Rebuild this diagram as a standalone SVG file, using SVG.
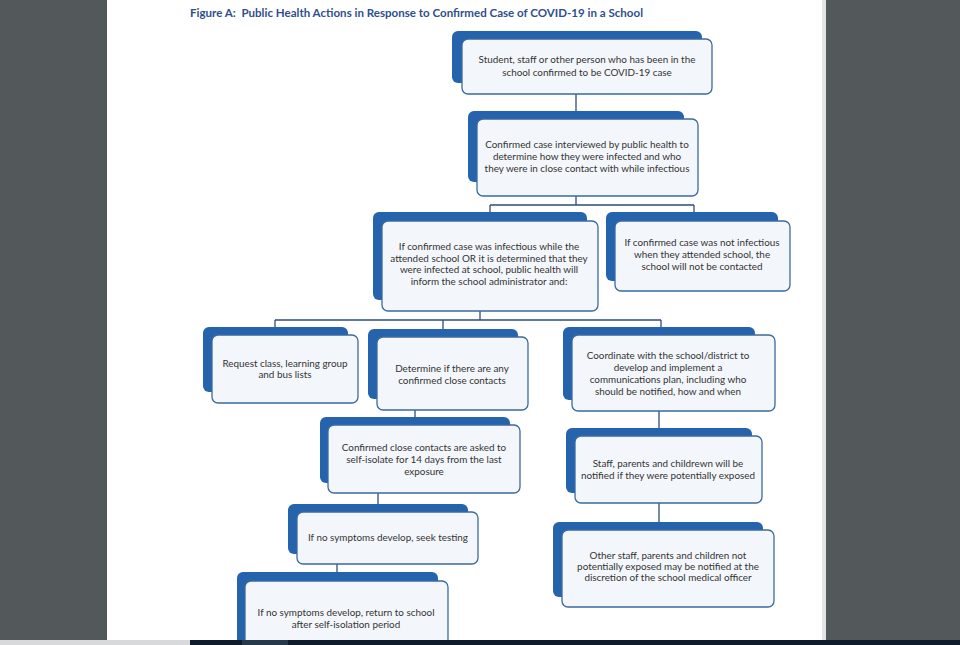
<svg xmlns="http://www.w3.org/2000/svg" width="960" height="645" viewBox="0 0 960 645">
<defs>
<style>
.sh{fill:#2563ad}
.bx{fill:#f3f7fb;stroke:#3b6a9e;stroke-width:1.3}
.t{font-family:Lato,"Liberation Sans",sans-serif;font-size:9.9px;fill:#333;text-anchor:middle}
.ttl{font-family:Lato,"Liberation Sans",sans-serif;font-size:11.8px;font-weight:bold;fill:#2f4f8c}
.cn{fill:none;stroke:#2d4e78;stroke-width:1.3}
</style>
<clipPath id="pg"><rect x="107" y="0" width="716" height="640"/></clipPath>
</defs>
<rect x="0" y="0" width="960" height="645" fill="#53585b"/>
<rect x="107" y="0" width="716" height="640" fill="#ffffff"/>
<rect x="822" y="0" width="4" height="640" fill="#e2e4e6"/>
<text class="ttl" x="190" y="17" textLength="453" lengthAdjust="spacingAndGlyphs">Figure A:&#160; Public Health Actions in Response to Confirmed Case of COVID-19 in a School</text>

<g id="connectors">
<path class="cn" d="M576 94V119"/>
<path class="cn" d="M576 196V205M490 205H694M490 205V221M694 205V221"/>
<path class="cn" d="M480 311V320M275 320H661M275 320V335M443 320V337M661 320V335"/>
<path class="cn" d="M415 410V425"/>
<path class="cn" d="M378 493V512"/>
<path class="cn" d="M337 564V581"/>
<path class="cn" d="M659 411V436"/>
<path class="cn" d="M659 503V530"/>
</g>

<g clip-path="url(#pg)">
<g id="n1">
<rect class="sh" x="452" y="31" width="250" height="52" rx="6"/>
<rect class="bx" x="462" y="39" width="250" height="55" rx="6"/>
<text class="t" x="587" y="63">Student, staff or other person who has been in the</text>
<text class="t" x="587" y="76">school confirmed to be COVID-19 case</text>
</g>
<g id="n2">
<rect class="sh" x="468" y="111" width="216" height="71" rx="6"/>
<rect class="bx" x="477" y="119" width="221" height="77" rx="6"/>
<text class="t" x="587" y="148">Confirmed case interviewed by public health to</text>
<text class="t" x="587" y="160">determine how they were infected and who</text>
<text class="t" x="587" y="172">they were in close contact with while infectious</text>
</g>
<g id="n3">
<rect class="sh" x="373" y="212" width="214" height="88" rx="6"/>
<rect class="bx" x="382" y="221" width="216" height="90" rx="6"/>
<text class="t" x="489" y="250">If confirmed case was infectious while the</text>
<text class="t" x="489" y="262">attended school OR it is determined that they</text>
<text class="t" x="489" y="273">were infected at school, public health will</text>
<text class="t" x="489" y="285">inform the school administrator and:</text>
</g>
<g id="n4">
<rect class="sh" x="606" y="212" width="172" height="69" rx="6"/>
<rect class="bx" x="615" y="221" width="175" height="70" rx="6"/>
<text class="t" x="702" y="246">If confirmed case was not infectious</text>
<text class="t" x="702" y="258">when they attended school, the</text>
<text class="t" x="702" y="270">school will not be contacted</text>
</g>
<g id="n5">
<rect class="sh" x="203" y="327" width="145" height="65" rx="6"/>
<rect class="bx" x="212" y="335" width="146" height="68" rx="6"/>
<text class="t" x="285" y="367">Request class, learning group</text>
<text class="t" x="285" y="378">and bus lists</text>
</g>
<g id="n6">
<rect class="sh" x="368" y="329" width="150" height="70" rx="6"/>
<rect class="bx" x="377" y="337" width="151" height="73" rx="6"/>
<text class="t" x="452" y="372">Determine if there are any</text>
<text class="t" x="452" y="384">confirmed close contacts</text>
</g>
<g id="n7">
<rect class="sh" x="563" y="327" width="192" height="73" rx="6"/>
<rect class="bx" x="572" y="335" width="203" height="76" rx="6"/>
<text class="t" x="668" y="359">Coordinate with the school/district to</text>
<text class="t" x="668" y="371">develop and implement a</text>
<text class="t" x="668" y="383">communications plan, including who</text>
<text class="t" x="668" y="395">should be notified, how and when</text>
</g>
<g id="n8">
<rect class="sh" x="320" y="417" width="190" height="66" rx="6"/>
<rect class="bx" x="328" y="425" width="192" height="68" rx="6"/>
<text class="t" x="424" y="451">Confirmed close contacts are asked to</text>
<text class="t" x="424" y="463">self-isolate for 14 days from the last</text>
<text class="t" x="424" y="475">exposure</text>
</g>
<g id="n9">
<rect class="sh" x="566" y="428" width="186" height="65" rx="6"/>
<rect class="bx" x="575" y="436" width="187" height="67" rx="6"/>
<text class="t" x="668" y="467">Staff, parents and childrewn will be</text>
<text class="t" x="668" y="479">notified if they were potentially exposed</text>
</g>
<g id="n10">
<rect class="sh" x="288" y="504" width="180" height="50" rx="6"/>
<rect class="bx" x="297" y="512" width="181" height="52" rx="6"/>
<text class="t" x="388" y="541">If no symptoms develop, seek testing</text>
</g>
<g id="n11">
<rect class="sh" x="553" y="522" width="210" height="75" rx="6"/>
<rect class="bx" x="562" y="530" width="212" height="77" rx="6"/>
<text class="t" x="668" y="559">Other staff, parents and children not</text>
<text class="t" x="668" y="570">potentially exposed may be notified at the</text>
<text class="t" x="668" y="581">discretion of the school medical officer</text>
</g>
<g id="n12">
<rect class="sh" x="237" y="572" width="201" height="80" rx="6"/>
<rect class="bx" x="245" y="581" width="203" height="80" rx="6"/>
<text class="t" x="346" y="616">If no symptoms develop, return to school</text>
<text class="t" x="346" y="628">after self-isolation period</text>
</g>
</g>

<rect x="0" y="640" width="190" height="5" fill="#d8d9da"/>
<rect x="190" y="640" width="770" height="5" fill="#0f1b2b"/>
<rect x="242" y="640" width="46" height="5" fill="#27384a"/>
</svg>
